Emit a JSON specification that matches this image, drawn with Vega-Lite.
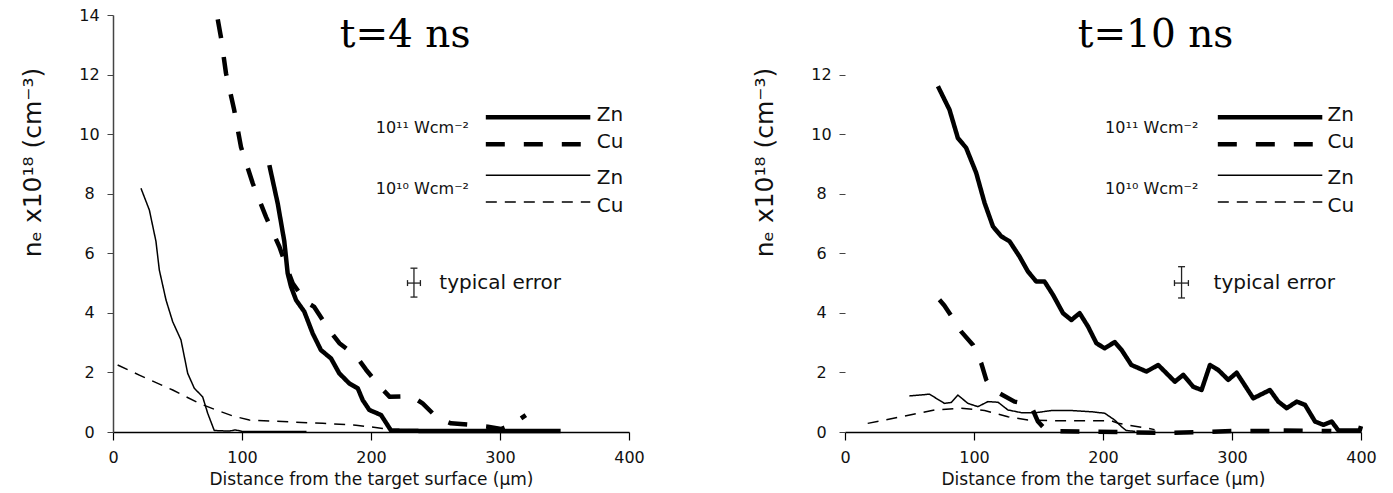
{
  "$schema": "https://vega.github.io/schema/vega-lite/v6.json",
  "background": "white",
  "autosize": {"type": "pad"},
  "padding": {"left": 20, "top": 7, "right": 5, "bottom": 5},
  "spacing": 216,
  "bounds": "flush",
  "config": {
    "view": {"stroke": null},
    "font": "DejaVu Sans",
    "axis": {"grid": false, "labelFont": "DejaVu Sans", "titleFont": "DejaVu Sans", "labelColor": "#111", "titleColor": "#111", "titleFontWeight": "normal"}
  },
  "datasets": {
    "curves": [
      {"p":"L","s":"Zn11","x":121.2,"y":8.96},{"p":"L","s":"Zn11","x":127.7,"y":7.67},{"p":"L","s":"Zn11","x":132.8,"y":6.4},{"p":"L","s":"Zn11","x":135.4,"y":5.33},{"p":"L","s":"Zn11","x":138,"y":4.88},{"p":"L","s":"Zn11","x":141.9,"y":4.43},{"p":"L","s":"Zn11","x":148.3,"y":4.04},{"p":"L","s":"Zn11","x":154.8,"y":3.31},{"p":"L","s":"Zn11","x":161.2,"y":2.75},{"p":"L","s":"Zn11","x":169,"y":2.47},{"p":"L","s":"Zn11","x":175.4,"y":1.97},{"p":"L","s":"Zn11","x":183.2,"y":1.63},{"p":"L","s":"Zn11","x":189.7,"y":1.47},{"p":"L","s":"Zn11","x":193.6,"y":1.07},{"p":"L","s":"Zn11","x":198.7,"y":0.74},{"p":"L","s":"Zn11","x":207.8,"y":0.57},{"p":"L","s":"Zn11","x":215.5,"y":0.05},{"p":"L","s":"Zn11","x":250,"y":0.03},{"p":"L","s":"Zn11","x":300,"y":0.03},{"p":"L","s":"Zn11","x":347,"y":0.03},
      {"p":"L","s":"Cu11","x":81.2,"y":13.85},{"p":"L","s":"Cu11","x":83.7,"y":13.25},{"p":"L","s":"Cu11","x":87.6,"y":12.04},{"p":"L","s":"Cu11","x":94,"y":10.8},{"p":"L","s":"Cu11","x":99.2,"y":9.57},{"p":"L","s":"Cu11","x":108.3,"y":8.35},{"p":"L","s":"Cu11","x":118.6,"y":7.22},{"p":"L","s":"Cu11","x":129,"y":6.22},{"p":"L","s":"Cu11","x":134,"y":5.6},{"p":"L","s":"Cu11","x":139.3,"y":4.99},{"p":"L","s":"Cu11","x":149.6,"y":4.37},{"p":"L","s":"Cu11","x":156,"y":4.2},{"p":"L","s":"Cu11","x":167.7,"y":3.42},{"p":"L","s":"Cu11","x":175.5,"y":2.98},{"p":"L","s":"Cu11","x":188.4,"y":2.55},{"p":"L","s":"Cu11","x":196,"y":2.1},{"p":"L","s":"Cu11","x":207,"y":1.52},{"p":"L","s":"Cu11","x":214.5,"y":1.18},{"p":"L","s":"Cu11","x":231.5,"y":1.2},{"p":"L","s":"Cu11","x":240,"y":0.96},{"p":"L","s":"Cu11","x":251.7,"y":0.46},{"p":"L","s":"Cu11","x":262,"y":0.29},{"p":"L","s":"Cu11","x":280,"y":0.23},{"p":"L","s":"Cu11","x":290.5,"y":0.18},{"p":"L","s":"Cu11","x":300.8,"y":0.1},{"p":"L","s":"Cu11","x":308.5,"y":0.23},{"p":"L","s":"Cu11","x":320,"y":0.57},
      {"p":"L","s":"Zn10","x":21.7,"y":8.18},{"p":"L","s":"Zn10","x":28.2,"y":7.45},{"p":"L","s":"Zn10","x":33.3,"y":6.4},{"p":"L","s":"Zn10","x":35.9,"y":5.44},{"p":"L","s":"Zn10","x":41.1,"y":4.43},{"p":"L","s":"Zn10","x":46.3,"y":3.7},{"p":"L","s":"Zn10","x":52.7,"y":3.09},{"p":"L","s":"Zn10","x":57.9,"y":1.97},{"p":"L","s":"Zn10","x":63,"y":1.47},{"p":"L","s":"Zn10","x":69.5,"y":1.18},{"p":"L","s":"Zn10","x":73.4,"y":0.63},{"p":"L","s":"Zn10","x":78.5,"y":0.05},{"p":"L","s":"Zn10","x":90,"y":0.03},{"p":"L","s":"Zn10","x":95,"y":0.07},{"p":"L","s":"Zn10","x":100,"y":0.02},{"p":"L","s":"Zn10","x":150,"y":0.02},
      {"p":"L","s":"Cu10","x":3.6,"y":2.25},{"p":"L","s":"Cu10","x":20.4,"y":1.91},{"p":"L","s":"Cu10","x":46.3,"y":1.41},{"p":"L","s":"Cu10","x":66.9,"y":0.96},{"p":"L","s":"Cu10","x":79.8,"y":0.74},{"p":"L","s":"Cu10","x":92.8,"y":0.54},{"p":"L","s":"Cu10","x":105.7,"y":0.4},{"p":"L","s":"Cu10","x":131.5,"y":0.35},{"p":"L","s":"Cu10","x":162.6,"y":0.29},{"p":"L","s":"Cu10","x":188.4,"y":0.23},{"p":"L","s":"Cu10","x":209,"y":0.12},{"p":"L","s":"Cu10","x":216.8,"y":0.04},{"p":"L","s":"Cu10","x":225,"y":0.02},
      {"p":"R","s":"Zn11","x":72,"y":11.61},{"p":"R","s":"Zn11","x":81,"y":10.82},{"p":"R","s":"Zn11","x":87.5,"y":9.87},{"p":"R","s":"Zn11","x":93.9,"y":9.54},{"p":"R","s":"Zn11","x":101.7,"y":8.7},{"p":"R","s":"Zn11","x":108.2,"y":7.69},{"p":"R","s":"Zn11","x":114.7,"y":6.9},{"p":"R","s":"Zn11","x":121.1,"y":6.57},{"p":"R","s":"Zn11","x":127.6,"y":6.4},{"p":"R","s":"Zn11","x":135.3,"y":5.89},{"p":"R","s":"Zn11","x":141.8,"y":5.39},{"p":"R","s":"Zn11","x":148.3,"y":5.05},{"p":"R","s":"Zn11","x":154.7,"y":5.05},{"p":"R","s":"Zn11","x":161.3,"y":4.6},{"p":"R","s":"Zn11","x":169,"y":3.99},{"p":"R","s":"Zn11","x":175.5,"y":3.76},{"p":"R","s":"Zn11","x":181.9,"y":3.99},{"p":"R","s":"Zn11","x":188.4,"y":3.54},{"p":"R","s":"Zn11","x":194.9,"y":2.98},{"p":"R","s":"Zn11","x":201.3,"y":2.81},{"p":"R","s":"Zn11","x":209.1,"y":3.02},{"p":"R","s":"Zn11","x":214.3,"y":2.76},{"p":"R","s":"Zn11","x":222,"y":2.25},{"p":"R","s":"Zn11","x":233.7,"y":2.03},{"p":"R","s":"Zn11","x":242.8,"y":2.25},{"p":"R","s":"Zn11","x":255.7,"y":1.69},{"p":"R","s":"Zn11","x":262.2,"y":1.92},{"p":"R","s":"Zn11","x":269.9,"y":1.52},{"p":"R","s":"Zn11","x":276.4,"y":1.41},{"p":"R","s":"Zn11","x":282.9,"y":2.25},{"p":"R","s":"Zn11","x":289.4,"y":2.08},{"p":"R","s":"Zn11","x":297.1,"y":1.75},{"p":"R","s":"Zn11","x":303.6,"y":1.99},{"p":"R","s":"Zn11","x":316.5,"y":1.13},{"p":"R","s":"Zn11","x":329.4,"y":1.41},{"p":"R","s":"Zn11","x":335.9,"y":1.02},{"p":"R","s":"Zn11","x":342.4,"y":0.8},{"p":"R","s":"Zn11","x":350.2,"y":1.02},{"p":"R","s":"Zn11","x":356.6,"y":0.91},{"p":"R","s":"Zn11","x":364.4,"y":0.35},{"p":"R","s":"Zn11","x":370.9,"y":0.24},{"p":"R","s":"Zn11","x":377.3,"y":0.35},{"p":"R","s":"Zn11","x":382.5,"y":0.05},{"p":"R","s":"Zn11","x":399,"y":0.05},{"p":"R","s":"Zn11","x":400,"y":0.2},
      {"p":"R","s":"Cu11","x":73.2,"y":4.44},{"p":"R","s":"Cu11","x":77,"y":4.25},{"p":"R","s":"Cu11","x":81,"y":3.99},{"p":"R","s":"Cu11","x":90.1,"y":3.37},{"p":"R","s":"Cu11","x":99.2,"y":2.92},{"p":"R","s":"Cu11","x":105.6,"y":2.31},{"p":"R","s":"Cu11","x":109.5,"y":1.75},{"p":"R","s":"Cu11","x":113,"y":1.5},{"p":"R","s":"Cu11","x":119.8,"y":1.3},{"p":"R","s":"Cu11","x":131.4,"y":1.02},{"p":"R","s":"Cu11","x":140,"y":0.95},{"p":"R","s":"Cu11","x":145,"y":0.8},{"p":"R","s":"Cu11","x":149.6,"y":0.35},{"p":"R","s":"Cu11","x":155,"y":0.1},{"p":"R","s":"Cu11","x":162.5,"y":0.03},{"p":"R","s":"Cu11","x":250,"y":-0.03},{"p":"R","s":"Cu11","x":300,"y":0.03},{"p":"R","s":"Cu11","x":330,"y":0.03},{"p":"R","s":"Cu11","x":336,"y":0.24},{"p":"R","s":"Cu11","x":340,"y":0.05},{"p":"R","s":"Cu11","x":377,"y":0.03},
      {"p":"R","s":"Zn10","x":49.9,"y":1.21},{"p":"R","s":"Zn10","x":65.5,"y":1.27},{"p":"R","s":"Zn10","x":77.1,"y":0.96},{"p":"R","s":"Zn10","x":82.3,"y":0.99},{"p":"R","s":"Zn10","x":87.5,"y":1.24},{"p":"R","s":"Zn10","x":95.3,"y":0.96},{"p":"R","s":"Zn10","x":103,"y":0.85},{"p":"R","s":"Zn10","x":110.8,"y":1.02},{"p":"R","s":"Zn10","x":118.6,"y":1.0},{"p":"R","s":"Zn10","x":126.3,"y":0.74},{"p":"R","s":"Zn10","x":136.6,"y":0.65},{"p":"R","s":"Zn10","x":148.3,"y":0.65},{"p":"R","s":"Zn10","x":159.9,"y":0.72},{"p":"R","s":"Zn10","x":175.5,"y":0.72},{"p":"R","s":"Zn10","x":191,"y":0.68},{"p":"R","s":"Zn10","x":201.3,"y":0.63},{"p":"R","s":"Zn10","x":209.1,"y":0.4},{"p":"R","s":"Zn10","x":214.3,"y":0.18},{"p":"R","s":"Zn10","x":218,"y":0.05},{"p":"R","s":"Zn10","x":225,"y":0.02},
      {"p":"R","s":"Cu10","x":17.6,"y":0.29},{"p":"R","s":"Cu10","x":43.5,"y":0.51},{"p":"R","s":"Cu10","x":69.3,"y":0.74},{"p":"R","s":"Cu10","x":90.1,"y":0.8},{"p":"R","s":"Cu10","x":108.2,"y":0.72},{"p":"R","s":"Cu10","x":126.3,"y":0.51},{"p":"R","s":"Cu10","x":141.8,"y":0.4},{"p":"R","s":"Cu10","x":159.9,"y":0.38},{"p":"R","s":"Cu10","x":185.8,"y":0.38},{"p":"R","s":"Cu10","x":206.5,"y":0.38},{"p":"R","s":"Cu10","x":211.7,"y":0.29},{"p":"R","s":"Cu10","x":235,"y":0.12},{"p":"R","s":"Cu10","x":240,"y":0.08}
    ],
    "legendLines": [
      {"s":"Zn11","x":289,"x2":370,"y":10.57},
      {"s":"Cu11","x":289,"x2":362.6,"y":9.66},
      {"s":"Zn10","x":289,"x2":370,"y":8.62},
      {"s":"Cu10","x":289,"x2":370,"y":7.72}
    ],
    "legendNames": [
      {"t":"Zn","y":10.64},{"t":"Cu","y":9.74},{"t":"Zn","y":8.54},{"t":"Cu","y":7.59}
    ],
    "legendIntensity": [
      {"t":"10¹¹ Wcm⁻²","y":10.2},{"t":"10¹⁰ Wcm⁻²","y":8.17}
    ],
    "err": [
      {"p":"L","x":233.3,"x2":233.3,"y":4.53,"y2":5.5},
      {"p":"L","x":228.3,"x2":238.3,"y":5.0,"y2":5.0},
      {"p":"L","x":230.6,"x2":236,"y":5.5,"y2":5.5},
      {"p":"L","x":230.6,"x2":236,"y":4.53,"y2":4.53},
      {"p":"L","x":228.3,"x2":228.3,"y":4.9,"y2":5.1},
      {"p":"L","x":238.3,"x2":238.3,"y":4.9,"y2":5.1},
      {"p":"R","x":260.9,"x2":260.9,"y":4.5,"y2":5.55},
      {"p":"R","x":255.4,"x2":266.2,"y":5.0,"y2":5.0},
      {"p":"R","x":258.2,"x2":263.6,"y":5.55,"y2":5.55},
      {"p":"R","x":258.2,"x2":263.6,"y":4.5,"y2":4.5},
      {"p":"R","x":255.4,"x2":255.4,"y":4.9,"y2":5.1},
      {"p":"R","x":266.2,"x2":266.2,"y":4.9,"y2":5.1}
    ],
    "texts": [
      {"p":"L","kind":"err","t":"typical error","x":253,"y":5.0},
      {"p":"R","kind":"err","t":"typical error","x":285.7,"y":5.0},
      {"p":"L","kind":"title","t":"t=4 ns","x":226.4,"y":12.93},
      {"p":"R","kind":"title","t":"t=10 ns","x":240.7,"y":12.93}
    ]
  },
  "hconcat": [
    {
      "width": 516,
      "height": 417,
      "layer": [
        {
          "data": {"name": "curves"},
          "transform": [{"filter": "datum.p === 'L' && (datum.s === 'Zn11' || datum.s === 'Cu11')"}],
          "mark": {"type": "line", "color": "black", "strokeWidth": 4.5, "strokeCap": "butt", "strokeJoin": "round"},
          "encoding": {
            "x": {"field": "x", "type": "quantitative", "scale": {"domain": [0, 400]},
              "axis": {"values": [0,100,200,300,400], "format": "d", "title": "Distance from the target surface (μm)", "titleFontSize": 17, "titlePadding": 6, "labelFontSize": 16, "labelPadding": 9, "tickSize": 8, "tickColor": "black", "tickWidth": 1.2, "domainColor": "black", "domainWidth": 1.5, "labelFlush": false}},
            "y": {"field": "y", "type": "quantitative", "scale": {"domain": [0, 14]},
              "axis": {"values": [0,2,4,6,8,10,12,14], "title": "nₑ x10¹⁸ (cm⁻³)", "titleFontSize": 25, "titlePadding": 33, "titleY": 147, "labelFontSize": 16, "labelAlign": "center", "labelPadding": 18, "labelBaseline": "middle", "tickSize": 6, "tickColor": "#444", "domainColor": "#444", "domainWidth": 1.5}},
            "strokeDash": {"field": "s", "type": "nominal", "scale": {"domain": ["Zn11","Cu11","Zn10","Cu10"], "range": [[1,0],[19,19],[1,0],[11,8]]}, "legend": null}
          }
        },
        {
          "data": {"name": "curves"},
          "transform": [{"filter": "datum.p === 'L' && (datum.s === 'Zn10' || datum.s === 'Cu10')"}],
          "mark": {"type": "line", "color": "black", "strokeWidth": 1.5, "strokeCap": "butt", "strokeJoin": "round"},
          "encoding": {
            "x": {"field": "x", "type": "quantitative"},
            "y": {"field": "y", "type": "quantitative"},
            "strokeDash": {"field": "s", "type": "nominal", "legend": null}
          }
        },
        {
          "data": {"name": "legendLines"},
          "transform": [{"filter": "datum.s === 'Zn11' || datum.s === 'Cu11'"}],
          "mark": {"type": "rule", "color": "black", "strokeWidth": 4.5, "strokeCap": "butt"},
          "encoding": {
            "x": {"field": "x", "type": "quantitative"},
            "x2": {"field": "x2"},
            "y": {"field": "y", "type": "quantitative"},
            "strokeDash": {"field": "s", "type": "nominal", "legend": null}
          }
        },
        {
          "data": {"name": "legendLines"},
          "transform": [{"filter": "datum.s === 'Zn10' || datum.s === 'Cu10'"}],
          "mark": {"type": "rule", "color": "black", "strokeWidth": 1.5, "strokeCap": "butt"},
          "encoding": {
            "x": {"field": "x", "type": "quantitative"},
            "x2": {"field": "x2"},
            "y": {"field": "y", "type": "quantitative"},
            "strokeDash": {"field": "s", "type": "nominal", "legend": null}
          }
        },
        {
          "data": {"name": "legendNames"},
          "mark": {"type": "text", "align": "left", "baseline": "middle", "fontSize": 20, "font": "DejaVu Sans", "color": "#111"},
          "encoding": {"x": {"datum": 375}, "y": {"field": "y", "type": "quantitative"}, "text": {"field": "t"}}
        },
        {
          "data": {"name": "legendIntensity"},
          "mark": {"type": "text", "align": "right", "baseline": "middle", "fontSize": 16, "font": "DejaVu Sans", "color": "#111"},
          "encoding": {"x": {"datum": 276}, "y": {"field": "y", "type": "quantitative"}, "text": {"field": "t"}}
        },
        {
          "data": {"name": "err"},
          "transform": [{"filter": "datum.p === 'L'"}],
          "mark": {"type": "rule", "color": "#222", "strokeWidth": 1.3},
          "encoding": {"x": {"field": "x", "type": "quantitative"}, "x2": {"field": "x2"}, "y": {"field": "y", "type": "quantitative"}, "y2": {"field": "y2"}}
        },
        {
          "data": {"name": "texts"},
          "transform": [{"filter": "datum.p === 'L' && datum.kind === 'err'"}],
          "mark": {"type": "text", "align": "left", "baseline": "middle", "fontSize": 20, "font": "DejaVu Sans", "color": "#111"},
          "encoding": {"x": {"field": "x", "type": "quantitative"}, "y": {"field": "y", "type": "quantitative"}, "text": {"field": "t"}}
        },
        {
          "data": {"name": "texts"},
          "transform": [{"filter": "datum.p === 'L' && datum.kind === 'title'"}],
          "mark": {"type": "text", "align": "center", "baseline": "alphabetic", "fontSize": 39, "font": "DejaVu Serif", "color": "black"},
          "encoding": {"x": {"field": "x", "type": "quantitative"}, "y": {"field": "y", "type": "quantitative"}, "text": {"field": "t"}}
        }
      ]
    },
    {
      "width": 516,
      "height": 417,
      "layer": [
        {
          "data": {"name": "curves"},
          "transform": [{"filter": "datum.p === 'R' && (datum.s === 'Zn11' || datum.s === 'Cu11')"}],
          "mark": {"type": "line", "color": "black", "strokeWidth": 4.5, "strokeCap": "butt", "strokeJoin": "round"},
          "encoding": {
            "x": {"field": "x", "type": "quantitative", "scale": {"domain": [0, 400]},
              "axis": {"values": [0,100,200,300,400], "format": "d", "title": "Distance from the target surface (μm)", "titleFontSize": 17, "titlePadding": 6, "labelFontSize": 16, "labelPadding": 9, "tickSize": 8, "tickColor": "black", "tickWidth": 1.2, "domainColor": "black", "domainWidth": 1.5, "labelFlush": false}},
            "y": {"field": "y", "type": "quantitative", "scale": {"domain": [0, 14]},
              "axis": {"values": [0,2,4,6,8,10,12], "title": "nₑ x10¹⁸ (cm⁻³)", "titleFontSize": 25, "titlePadding": 33, "titleY": 147, "labelFontSize": 16, "labelAlign": "center", "labelPadding": 18, "labelBaseline": "middle", "tickSize": 6, "tickColor": "#444", "domain": false}},
            "strokeDash": {"field": "s", "type": "nominal", "scale": {"domain": ["Zn11","Cu11","Zn10","Cu10"], "range": [[1,0],[19,19],[1,0],[11,8]]}, "legend": null}
          }
        },
        {
          "data": {"name": "curves"},
          "transform": [{"filter": "datum.p === 'R' && (datum.s === 'Zn10' || datum.s === 'Cu10')"}],
          "mark": {"type": "line", "color": "black", "strokeWidth": 1.5, "strokeCap": "butt", "strokeJoin": "round"},
          "encoding": {
            "x": {"field": "x", "type": "quantitative"},
            "y": {"field": "y", "type": "quantitative"},
            "strokeDash": {"field": "s", "type": "nominal", "legend": null}
          }
        },
        {
          "mark": {"type": "rule", "color": "#444", "strokeWidth": 1.5},
          "encoding": {"x": {"datum": 0}, "y": {"datum": 0}, "y2": {"datum": 12}}
        },
        {
          "data": {"name": "legendLines"},
          "transform": [{"filter": "datum.s === 'Zn11' || datum.s === 'Cu11'"}],
          "mark": {"type": "rule", "color": "black", "strokeWidth": 4.5, "strokeCap": "butt"},
          "encoding": {
            "x": {"field": "x", "type": "quantitative"},
            "x2": {"field": "x2"},
            "y": {"field": "y", "type": "quantitative"},
            "strokeDash": {"field": "s", "type": "nominal", "legend": null}
          }
        },
        {
          "data": {"name": "legendLines"},
          "transform": [{"filter": "datum.s === 'Zn10' || datum.s === 'Cu10'"}],
          "mark": {"type": "rule", "color": "black", "strokeWidth": 1.5, "strokeCap": "butt"},
          "encoding": {
            "x": {"field": "x", "type": "quantitative"},
            "x2": {"field": "x2"},
            "y": {"field": "y", "type": "quantitative"},
            "strokeDash": {"field": "s", "type": "nominal", "legend": null}
          }
        },
        {
          "data": {"name": "legendNames"},
          "mark": {"type": "text", "align": "left", "baseline": "middle", "fontSize": 20, "font": "DejaVu Sans", "color": "#111"},
          "encoding": {"x": {"datum": 374}, "y": {"field": "y", "type": "quantitative"}, "text": {"field": "t"}}
        },
        {
          "data": {"name": "legendIntensity"},
          "mark": {"type": "text", "align": "right", "baseline": "middle", "fontSize": 16, "font": "DejaVu Sans", "color": "#111"},
          "encoding": {"x": {"datum": 274}, "y": {"field": "y", "type": "quantitative"}, "text": {"field": "t"}}
        },
        {
          "data": {"name": "err"},
          "transform": [{"filter": "datum.p === 'R'"}],
          "mark": {"type": "rule", "color": "#222", "strokeWidth": 1.3},
          "encoding": {"x": {"field": "x", "type": "quantitative"}, "x2": {"field": "x2"}, "y": {"field": "y", "type": "quantitative"}, "y2": {"field": "y2"}}
        },
        {
          "data": {"name": "texts"},
          "transform": [{"filter": "datum.p === 'R' && datum.kind === 'err'"}],
          "mark": {"type": "text", "align": "left", "baseline": "middle", "fontSize": 20, "font": "DejaVu Sans", "color": "#111"},
          "encoding": {"x": {"field": "x", "type": "quantitative"}, "y": {"field": "y", "type": "quantitative"}, "text": {"field": "t"}}
        },
        {
          "data": {"name": "texts"},
          "transform": [{"filter": "datum.p === 'R' && datum.kind === 'title'"}],
          "mark": {"type": "text", "align": "center", "baseline": "alphabetic", "fontSize": 39, "font": "DejaVu Serif", "color": "black"},
          "encoding": {"x": {"field": "x", "type": "quantitative"}, "y": {"field": "y", "type": "quantitative"}, "text": {"field": "t"}}
        }
      ]
    }
  ]
}
